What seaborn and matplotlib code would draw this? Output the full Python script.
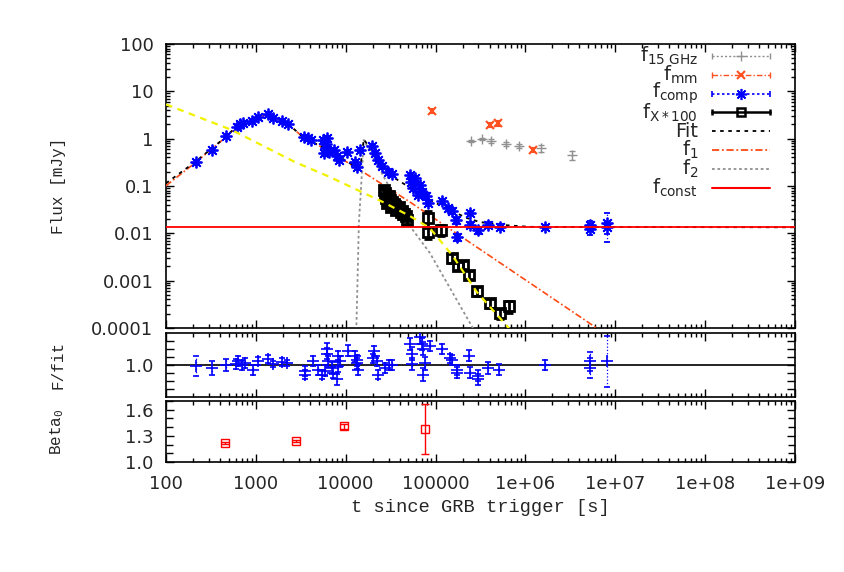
import numpy as np
import matplotlib
matplotlib.use("Agg")
import matplotlib.pyplot as plt
from matplotlib.ticker import LogLocator, NullFormatter, MultipleLocator
import seaborn as sns

# ---------------- data ----------------
# composite optical flux (blue asterisks)
comp_t = [216, 325, 465, 617, 665, 719, 906, 1055, 1364, 1550,
          1950, 2275, 3430, 3800, 4100, 5580, 6020, 6180, 6050, 5720,
          6500, 7390, 7980, 8400, 10300, 12650, 13300, 14380, 19550, 21100,
          22800, 25300, 29500, 32700, 51800, 53100, 55900, 66900, 70400, 78000,
          82100, 117500, 137000, 152000, 168000, 172500, 241000, 243000, 296000, 382000,
          519000, 1.64e6, 5.2e6, 5.25e6, 8.0e6, 8.05e6, 58900, 63500]
comp_f = [0.32, 0.58, 1.14, 1.76, 2.04, 2.14, 2.36, 2.87, 3.32, 2.73,
          2.36, 2.04, 1.08, 1.03, 0.94, 0.94, 0.77, 1.03, 0.635, 0.50,
          0.52, 0.58, 0.43, 0.354, 0.52, 0.32, 0.25, 0.58, 0.70, 0.50,
          0.354, 0.264, 0.198, 0.179, 0.171, 0.121, 0.091, 0.105, 0.0746, 0.0614,
          0.0437, 0.0482, 0.0343, 0.0296, 0.0191, 0.00836, 0.0269, 0.015, 0.0118, 0.015,
          0.0136, 0.0136, 0.015, 0.0123, 0.0165, 0.0136, 0.148, 0.0646]
comp_e = [0.04, 0.06, 0.10, 0.15, 0.15, 0.15, 0.18, 0.20, 0.25, 0.20,
          0.18, 0.15, 0.10, 0.09, 0.08, 0.09, 0.08, 0.09, 0.07, 0.06,
          0.06, 0.06, 0.05, 0.04, 0.05, 0.04, 0.03, 0.06, 0.07, 0.05,
          0.04, 0.03, 0.025, 0.02, 0.02, 0.015, 0.012, 0.013, 0.01, 0.008,
          0.006, 0.006, 0.004, 0.004, 0.003, 0.0015, 0.003, 0.002, 0.002, 0.002,
          0.002, 0.0015, 0.003, 0.003, 0.010, 0.004, 0.015, 0.007]

# X-ray flux x 100 (black squares)
xr_t = [26600, 27300, 28000, 28700, 29500, 30000, 31000, 31800, 33000, 34400,
        35000, 36200, 37500, 39100, 41100, 42000, 43300, 44500, 46800, 48000,
        82100, 82100, 114500, 152000, 177000, 201000, 235000, 288000, 402000, 519000,
        653000]
xr_f = [0.082, 0.0711, 0.0557, 0.0437, 0.048, 0.062, 0.0506, 0.036, 0.045, 0.0416,
        0.038, 0.0311, 0.033, 0.036, 0.0282, 0.030, 0.0256, 0.026, 0.0232, 0.0191,
        0.0211, 0.0107, 0.0118, 0.00301, 0.00204, 0.00214, 0.00132, 0.000604, 0.000337, 0.000207,
        0.000291]
xr_e = [0.014, 0.012, 0.010, 0.008, 0.009, 0.011, 0.009, 0.007, 0.008, 0.007,
        0.007, 0.006, 0.006, 0.006, 0.005, 0.005, 0.0045, 0.0045, 0.004, 0.0035,
        0.008, 0.003, 0.003, 0.0006, 0.0004, 0.0004, 0.00025, 0.00012, 0.00007, 0.00005,
        0.00008]

# 15 GHz radio (grey plus)
r15_t = [247000, 327000, 412000, 605000, 845000, 1.48e6, 3.28e6]
r15_f = [0.893, 0.984, 0.893, 0.771, 0.70, 0.635, 0.452]
r15_e = [0.06, 0.06, 0.08, 0.07, 0.06, 0.10, 0.09]

# mm (orange crosses)
mm_t = [91000, 402000, 493000, 1.21e6]
mm_f = [3.84, 1.94, 2.14, 0.575]
mm_e = [0.3, 0.15, 0.25, 0.06]

# model curves
f1_t = [100, 210, 465, 665, 1030, 1330, 2220, 3340, 6180, 14400, 51800, 6.2e6, 1e7]
f1_f = [0.101, 0.306, 1.08, 2.14, 2.87, 3.16, 2.14, 1.08, 0.576, 0.218, 0.046, 1.0e-4, 5.4e-5]

f2_t = [13000, 13150, 14030, 14770, 15900, 20100, 55800, 86500, 260000, 400000]
f2_f = [1e-6, 1e-4, 0.0165, 0.082, 0.94, 0.41, 0.0118, 0.00384, 1e-4, 2.5e-5]

fit_t = [100, 210, 465, 665, 1030, 1330, 2220, 3340, 6180, 12000,
         14000, 14770, 15900, 22200, 33500, 86500, 144000, 223000, 311000, 561000,
         1.12e6, 1e9]
fit_f = [0.114, 0.32, 1.09, 2.15, 2.88, 3.17, 2.15, 1.09, 0.59, 0.28,
         0.255, 0.30, 0.97, 0.39, 0.155, 0.0506, 0.0311, 0.0211, 0.0173, 0.015,
         0.0137, 0.0134]

xfit_t = [100, 542, 2720, 6670, 25900, 51800, 86500, 155600, 288000, 637000, 1e6]
xfit_f = [5.3, 1.52, 0.321, 0.155, 0.0459, 0.0232, 0.0129, 0.00332, 0.000575, 0.000105, 3.5e-5]

f_const = 0.0134

# residuals F/fit
res_t = [216, 325, 465, 601, 632, 700, 756, 929, 1055, 1364,
         1550, 1950, 2220, 3516, 3530, 4315, 4910, 5435, 6180, 6200,
         6340, 5870, 7020, 7210, 7980, 8190, 8610, 8300, 10570, 12650,
         13300, 13670, 13400, 20600, 20100, 22200, 22800, 27300, 30300, 32700,
         51800, 54500, 54600, 66900, 70400, 72300, 76100, 72400, 86500, 117500,
         144000, 152000, 172500, 173000, 234000, 241000, 296000, 297000, 382000, 506000,
         1.64e6, 5.2e6, 5.22e6, 8.04e6]
res_r = [0.988, 0.964, 1.0, 1.012, 1.048, 1.0, 1.024, 0.940, 1.048, 1.072,
         1.012, 1.036, 1.024, 0.928, 0.881, 1.048, 0.940, 0.881, 1.203, 1.143,
         1.048, 0.928, 0.964, 0.904, 0.821, 1.107, 1.048, 0.988, 1.179, 1.107,
         1.024, 0.940, 1.060, 1.179, 1.084, 1.048, 0.881, 0.964, 1.0, 1.0,
         1.263, 1.143, 1.012, 1.346, 1.263, 1.203, 1.024, 0.881, 1.239, 1.203,
         1.084, 1.060, 0.940, 0.904, 1.119, 0.904, 0.869, 0.821, 0.964, 0.940,
         1.0, 1.048, 0.964, 1.048]
res_e = [0.13, 0.09, 0.07, 0.06, 0.06, 0.06, 0.06, 0.06, 0.05, 0.05,
         0.04, 0.05, 0.04, 0.06, 0.06, 0.06, 0.06, 0.06, 0.07, 0.07,
         0.07, 0.07, 0.07, 0.07, 0.07, 0.07, 0.07, 0.07, 0.07, 0.07,
         0.07, 0.07, 0.07, 0.06, 0.06, 0.06, 0.06, 0.06, 0.06, 0.06,
         0.08, 0.08, 0.08, 0.08, 0.08, 0.08, 0.08, 0.08, 0.06, 0.06,
         0.06, 0.06, 0.06, 0.07, 0.07, 0.07, 0.07, 0.07, 0.07, 0.07,
         0.06, 0.12, 0.12, 0.32]

# spectral index beta_0
beta_t = [453, 2790, 9550, 76100]
beta_v = [1.22, 1.24, 1.41, 1.38]
beta_e = [0.01, 0.012, 0.03, 0.29]

xtick_vals = [1e2, 1e3, 1e4, 1e5, 1e6, 1e7, 1e8, 1e9]
xtick_labels = ["100", "1000", "10000", "100000", "1e+06", "1e+07", "1e+08", "1e+09"]
ytick_vals = [1e-4, 1e-3, 1e-2, 1e-1, 1, 10, 100]
ytick_labels = ["0.0001", "0.001", "0.01", "0.1", "1", "10", "100"]

legend_labels = [r"f$_{\rm 15\ GHz}$", r"f$_{\rm mm}$", r"f$_{\rm comp}$", r"f$_{\rm X*100}$",
                 "Fit", r"f$_{\rm 1}$", r"f$_{\rm 2}$", r"f$_{\rm const}$"]

# ---------------- styling ----------------
BLUE = "#0000ff"
GREY = "#909090"
ORANGE = "#ff5020"
F1COL = "#ff4a14"
YELLOW = "#f2f200"
RED = "#ff0000"
DOT = (0, (1.5, 1.5))
DASHDOT = (0, (4, 1.5, 1, 1.5))
FITDASH = (0, (2, 2.5))

sns.set_style("ticks")
plt.rcParams["font.family"] = ["DejaVu Sans"]
plt.rcParams["mathtext.fontset"] = "dejavusans"

fig = plt.figure(figsize=(8.45, 5.72), dpi=100)
left, width = 0.1964, 0.7444
ax_top = fig.add_axes([left, 0.4266, width, 0.4965])
ax_mid = fig.add_axes([left, 0.3059, width, 0.1119], sharex=ax_top)
ax_bot = fig.add_axes([left, 0.1923, width, 0.1066], sharex=ax_top)

ax_top.set_xscale("log")
ax_top.set_yscale("log")
ax_top.set_xlim(100, 1e9)
ax_top.set_ylim(1e-4, 100)


def dotted_bars(container, style=":"):
    for coll in container[2]:
        coll.set_linestyle(style)


def style_axis(ax):
    ax.tick_params(which="both", direction="in", top=True, right=True,
                   labelsize=13, pad=9, width=1.0, color="black")
    ax.tick_params(which="major", length=6)
    ax.tick_params(which="minor", length=3)
    for s in ax.spines.values():
        s.set_linewidth(1.2)
        s.set_color("black")


# ---- top panel ----
sns.lineplot(x=f1_t, y=f1_f, ax=ax_top, color=F1COL, linestyle=DASHDOT,
             lw=1.2, sort=False, estimator=None, zorder=3)
sns.lineplot(x=f2_t, y=f2_f, ax=ax_top, color=GREY, linestyle=DOT,
             lw=1.3, sort=False, estimator=None, zorder=3)
sns.lineplot(x=fit_t, y=fit_f, ax=ax_top, color="black", linestyle=FITDASH,
             lw=1.3, sort=False, estimator=None, zorder=3)

c = ax_top.errorbar(r15_t, r15_f, yerr=r15_e, linestyle="none", marker="+", ms=7,
                    mew=1.0, color=GREY, ecolor=GREY, elinewidth=0.9, capsize=2.5, zorder=4)
dotted_bars(c)
c = ax_top.errorbar(mm_t, mm_f, yerr=mm_e, linestyle="none", marker="x", ms=6,
                    mew=1.5, color=ORANGE, ecolor=ORANGE, elinewidth=0.9, capsize=2.5, zorder=4)
dotted_bars(c, DASHDOT)
c = ax_top.errorbar(comp_t, comp_f, yerr=comp_e, linestyle="none", marker=(8, 2, 0), ms=8.5,
                    mew=1.3, color=BLUE, ecolor=BLUE, elinewidth=0.9, capsize=2, zorder=5)
dotted_bars(c)
ax_top.errorbar(xr_t, xr_f, yerr=xr_e, linestyle="none", marker="s", ms=7, mew=2.0,
                mfc="none", color="black", ecolor="black", elinewidth=2.0, capsize=3,
                capthick=2.0, zorder=6)

sns.lineplot(x=xfit_t, y=xfit_f, ax=ax_top, color=YELLOW, linestyle=(0, (3, 2.5)),
             lw=1.6, sort=False, estimator=None, zorder=7)
ax_top.axhline(f_const, color=RED, lw=1.3, zorder=8)

ax_top.set_yticks(ytick_vals, ytick_labels)
ax_top.yaxis.set_minor_locator(LogLocator(base=10, subs=np.arange(2, 10), numticks=100))
ax_top.yaxis.set_minor_formatter(NullFormatter())
ax_top.set_ylim(1e-4, 100)

# key drawn gnuplot-style: right-aligned labels, sample to their right
key_styles = [
    dict(color=GREY, ls=DOT, lw=1.0, marker="+", ms=7, caps=True),
    dict(color=ORANGE, ls=DASHDOT, lw=1.0, marker="x", ms=6, mew=1.5, caps=True),
    dict(color=BLUE, ls=DOT, lw=1.2, marker=(8, 2, 0), ms=8, mew=1.2, caps=True),
    dict(color="black", ls="-", lw=1.8, marker="s", mfc="none", ms=6, mew=1.8, caps=True),
    dict(color="black", ls=FITDASH, lw=1.3),
    dict(color=F1COL, ls=DASHDOT, lw=1.3),
    dict(color=GREY, ls=DOT, lw=1.3),
    dict(color=RED, ls="-", lw=1.5),
]
key_top, key_step = 0.9588, 0.0666
key_text_x, key_x0, key_x1 = 0.846, 0.868, 0.960
tr = ax_top.transAxes
for i, (lab, st) in enumerate(zip(legend_labels, key_styles)):
    yk = key_top - i * key_step
    st = dict(st)
    caps = st.pop("caps", False)
    marker = st.pop("marker", None)
    ms = st.pop("ms", 6)
    mew = st.pop("mew", 1.0)
    mfc = st.pop("mfc", st["color"])
    ax_top.plot([key_x0, key_x1], [yk, yk], transform=tr, clip_on=False, zorder=9, **st)
    if marker is not None:
        ax_top.plot([(key_x0 + key_x1) / 2], [yk], transform=tr, clip_on=False, zorder=9,
                    linestyle="none", marker=marker, ms=ms, mew=mew, mfc=mfc, color=st["color"])
    if caps:
        ax_top.plot([key_x0, key_x1], [yk, yk], transform=tr, clip_on=False, zorder=9,
                    linestyle="none", marker="|", ms=5, mew=st["lw"], color=st["color"])
    ax_top.text(key_text_x, yk, lab, transform=tr, ha="right", va="center", fontsize=14)

ax_top.set_ylabel("Flux [mJy]", family="Liberation Mono", fontsize=11.5)
ax_top.yaxis.set_label_coords(-0.159, 0.5)

# ---- residual panel ----
ax_mid.axhline(1.0, color="black", lw=1.2, zorder=2)
c = ax_mid.errorbar(res_t, res_r, yerr=res_e, linestyle="none", marker="+", ms=8,
                    mew=1.2, color=BLUE, ecolor=BLUE, elinewidth=0.9, capsize=2.5, zorder=3)
dotted_bars(c)
ax_mid.set_ylim(0.6, 1.4)
ax_mid.set_yticks([0.7, 0.8, 0.9, 1.0, 1.1, 1.2, 1.3], ["", "", "", "1.0", "", "", ""])
ax_mid.set_ylabel("F/fit", family="Liberation Mono", fontsize=11.5)
ax_mid.yaxis.set_label_coords(-0.159, 0.5)

# ---- beta panel ----
ax_bot.errorbar(beta_t, beta_v, yerr=beta_e, linestyle="none", marker="s", ms=5.5, mew=1.0,
                mfc="none", color=RED, ecolor=RED, elinewidth=1.0, capsize=3, zorder=3)
ax_bot.set_ylim(1.0, 1.7)
ax_bot.set_yticks([1.0, 1.3, 1.6], ["1.0", "1.3", "1.6"])
ax_bot.yaxis.set_minor_locator(MultipleLocator(0.1))
ax_bot.set_ylabel(r"Beta$_{\mathtt{0}}$", family="Liberation Mono", fontsize=11.5)
ax_bot.yaxis.set_label_coords(-0.159, 0.5)
ax_bot.set_xlabel("t since GRB trigger [s]", family="Liberation Mono", fontsize=13.5)
ax_bot.xaxis.set_label_coords(0.5, -0.6)

# shared x ticks
ax_bot.set_xticks(xtick_vals, xtick_labels)
ax_bot.xaxis.set_minor_locator(LogLocator(base=10, subs=np.arange(2, 10), numticks=100))
ax_bot.xaxis.set_minor_formatter(NullFormatter())
ax_bot.set_xlim(100, 1e9)

for ax in (ax_top, ax_mid, ax_bot):
    style_axis(ax)
ax_top.tick_params(labelbottom=False)
ax_mid.tick_params(labelbottom=False)
ax_bot.tick_params(axis="y", which="minor", length=5)

fig.savefig("out.png", dpi=100)
